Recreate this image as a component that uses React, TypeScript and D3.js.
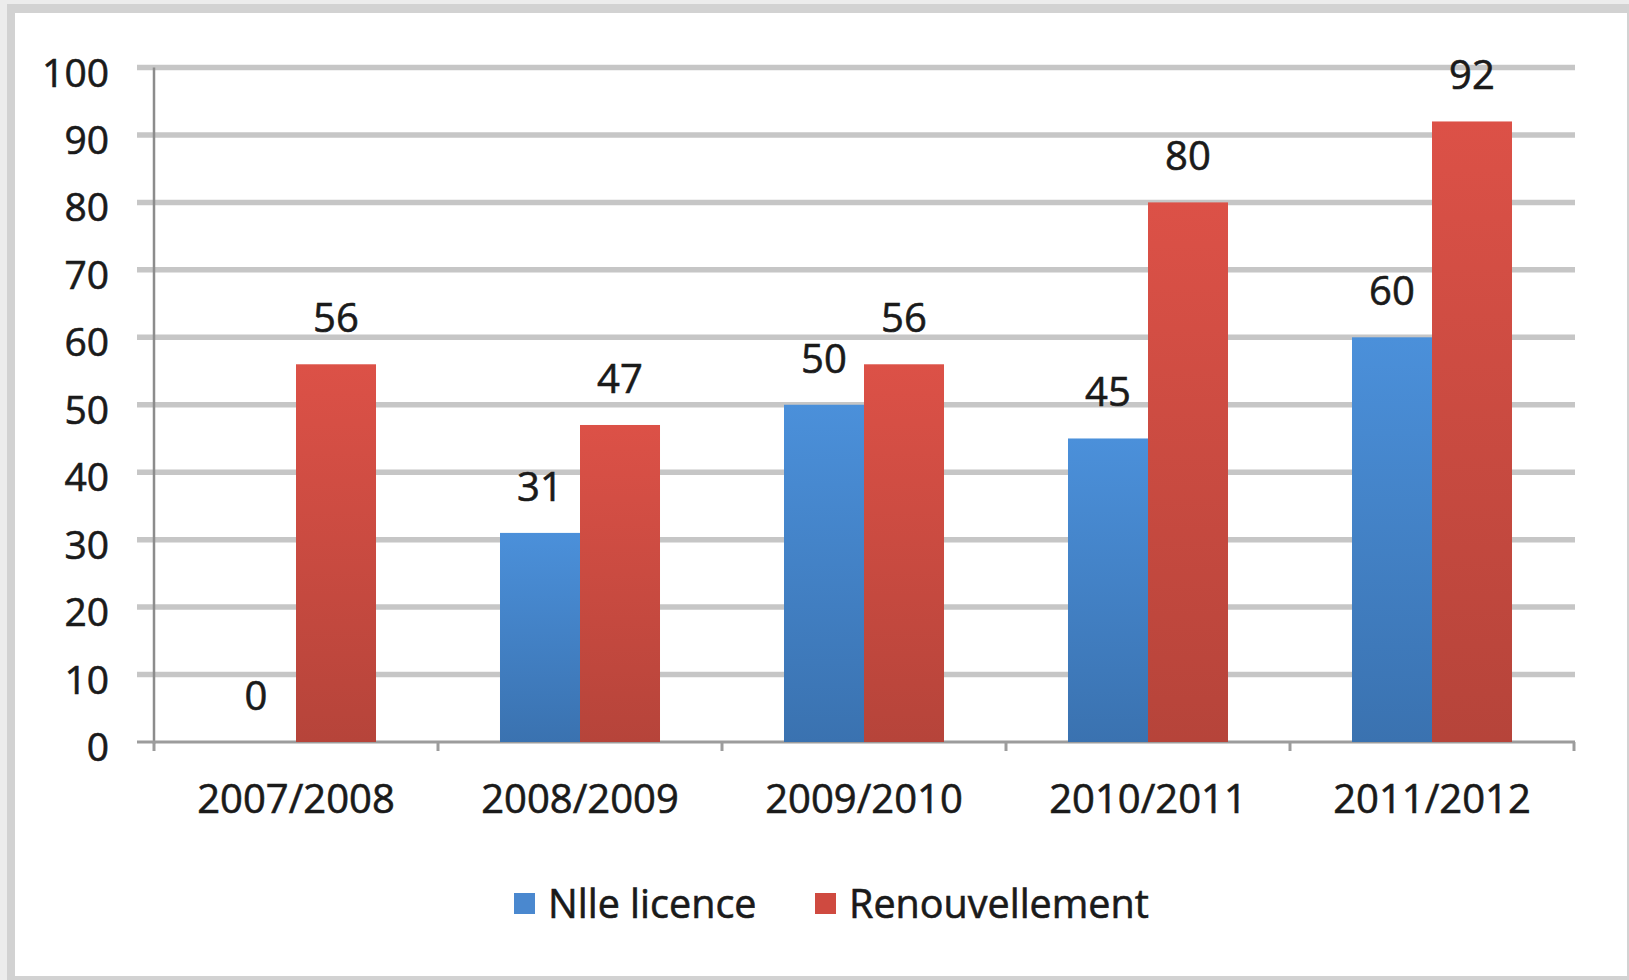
import React from "react";
import * as d3 from "d3";

const categories = ["2007/2008", "2008/2009", "2009/2010", "2010/2011", "2011/2012"];
const seriesNames = ["Nlle licence", "Renouvellement"];
const nlleLicence = [0, 31, 50, 45, 60];
const renouvellement = [56, 47, 56, 80, 92];
const yTicks = [0, 10, 20, 30, 40, 50, 60, 70, 80, 90, 100];

const W = 1629;
const H = 980;
const FONT = "'Open Sans', 'Noto Sans', sans-serif";
const TXT = "#1a1a1a";

export default function App() {
  const x0 = d3.scaleBand<string>().domain(categories).range([154, 1574]).paddingInner(0).paddingOuter(0);
  const bw = x0.bandwidth();
  const groupW = bw * 0.5634;
  const x1 = d3.scaleBand<string>().domain(seriesNames).range([0, groupW]).padding(0);
  const y = d3.scaleLinear().domain([0, 100]).range([742, 67.5]);
  const series = [nlleLicence, renouvellement];
  const fills = ["url(#gBlue)", "url(#gRed)"];
  const legendColors = ["#4a88cf", "#cf4a40"];
  const textProps = { fontFamily: FONT, fill: TXT, stroke: TXT, strokeWidth: 0.6 };

  return (
    <svg width={W} height={H} style={{ position: "absolute", left: 0, top: 0, display: "block" }}>
      <defs>
        <linearGradient id="gBlue" x1="0" y1="0" x2="0" y2="1">
          <stop offset="0%" stopColor="#4b90da" />
          <stop offset="100%" stopColor="#3a72b0" />
        </linearGradient>
        <linearGradient id="gRed" x1="0" y1="0" x2="0" y2="1">
          <stop offset="0%" stopColor="#dc5147" />
          <stop offset="100%" stopColor="#b6443a" />
        </linearGradient>
      </defs>
      <rect x={0} y={0} width={W} height={H} fill="#ececec" />
      <rect x={7} y={4} width={W - 7} height={H - 4} fill="#d2d2d2" />
      <rect x={15} y={13} width={1612} height={963} fill="#ffffff" />

      {/* gridlines */}
      {yTicks.filter((t) => t > 0).map((t) => (
        <line key={"g" + t} x1={137} x2={1575} y1={y(t)} y2={y(t)} stroke="#c6c6c6" strokeWidth={5.5} />
      ))}
      {/* y axis */}
      <line x1={154} x2={154} y1={y(100)} y2={y(0) + 2} stroke="#8c8c8c" strokeWidth={2.5} />
      {/* x axis */}
      <line x1={137} x2={1575} y1={y(0)} y2={y(0)} stroke="#9c9c9c" strokeWidth={3} />
      {[...categories.map((c) => x0(c) as number), 1574].map((xv, i) => (
        <line key={"t" + i} x1={xv} x2={xv} y1={y(0)} y2={y(0) + 9} stroke="#9c9c9c" strokeWidth={3} />
      ))}

      {/* y labels */}
      {yTicks.map((t) => (
        <text key={"yl" + t} x={109} y={y(t) + 19} textAnchor="end" fontSize={39} {...textProps}>
          {t}
        </text>
      ))}

      {/* bars */}
      {categories.map((c, ci) => (
        <g key={c} transform={`translate(${(x0(c) as number) + (bw - groupW) / 2},0)`}>
          {series.map((s, si) => {
            const v = s[ci];
            const bx = x1(seriesNames[si]) as number;
            return (
              <g key={si}>
                {v > 0 && (
                  <rect x={bx} y={y(v)} width={x1.bandwidth()} height={y(0) - y(v)} fill={fills[si]} />
                )}
                <text x={bx + x1.bandwidth() / 2} y={y(v) - 32} textAnchor="middle" fontSize={40} {...textProps}>
                  {v}
                </text>
              </g>
            );
          })}
        </g>
      ))}

      {/* x labels */}
      {categories.map((c) => (
        <text key={"xl" + c} x={(x0(c) as number) + bw / 2} y={813} textAnchor="middle" fontSize={40} {...textProps}>
          {c}
        </text>
      ))}

      {/* legend */}
      {seriesNames.map((n, i) => {
        const lx = i === 0 ? 514 : 815;
        return (
          <g key={n}>
            <rect x={lx} y={893} width={21} height={21} fill={legendColors[i]} />
            <text x={lx + 34} y={918} fontSize={39.5} {...textProps}>
              {n}
            </text>
          </g>
        );
      })}
    </svg>
  );
}
